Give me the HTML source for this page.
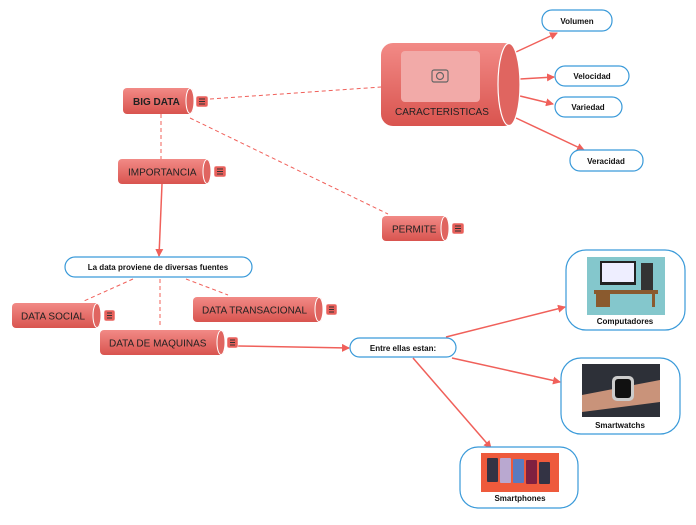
<!DOCTYPE html>
<html><head><meta charset="utf-8"><style>
body{margin:0;background:#fff;width:696px;height:520px;overflow:hidden;font-family:"Liberation Sans",sans-serif}
</style></head><body>
<svg width="696" height="520" viewBox="0 0 696 520" xmlns="http://www.w3.org/2000/svg" font-family="Liberation Sans, sans-serif">
<defs>
<linearGradient id="g" x1="0" y1="0" x2="0" y2="1"><stop offset="0" stop-color="#f28a86"/><stop offset="1" stop-color="#d9544f"/></linearGradient>
<marker id="a" markerWidth="8" markerHeight="8" refX="7" refY="4" orient="auto" markerUnits="userSpaceOnUse"><path d="M0,0 L8,4 L0,8z" fill="#f0605a"/></marker>
</defs>
<g stroke="#f0605a" stroke-width="1.5" fill="none">
<path d="M210,99 L381,87" stroke-dasharray="4,3" stroke-width="1"/>
<path d="M161,114 L161,159" stroke-dasharray="4,3" stroke-width="1"/>
<path d="M190,118 L388,214" stroke-dasharray="4,3" stroke-width="1"/>
<path d="M162,184 L159,256" marker-end="url(#a)"/>
<path d="M133,279 L84,301" stroke-dasharray="4,3" stroke-width="1"/>
<path d="M160,279 L160,328" stroke-dasharray="4,3" stroke-width="1"/>
<path d="M186,279 L228,295" stroke-dasharray="4,3" stroke-width="1"/>
<path d="M238,346 L349,348" marker-end="url(#a)"/>
<path d="M516,52 L557,33" marker-end="url(#a)"/>
<path d="M520,79 L554,77" marker-end="url(#a)"/>
<path d="M520,96 L553,104" marker-end="url(#a)"/>
<path d="M516,118 L584,150" marker-end="url(#a)"/>
<path d="M446,337 L565,307" marker-end="url(#a)"/>
<path d="M452,358 L560,382" marker-end="url(#a)"/>
<path d="M413,358 L491,448" marker-end="url(#a)"/>
</g>
<g font-size="10" fill="#222">
<rect x="123" y="88" width="70" height="26" rx="4" fill="url(#g)"/><ellipse cx="190" cy="101" rx="4" ry="12.5" fill="#e06560" stroke="#fff" stroke-width="1"/><text x="133" y="105" font-weight="bold">BIG DATA</text>
<rect x="118" y="159" width="92" height="25" rx="4" fill="url(#g)"/><ellipse cx="207" cy="171.5" rx="4" ry="12" fill="#e06560" stroke="#fff"/><text x="128" y="175.5">IMPORTANCIA</text>
<rect x="382" y="216" width="66" height="25" rx="4" fill="url(#g)"/><ellipse cx="445" cy="228.5" rx="4" ry="12" fill="#e06560" stroke="#fff"/><text x="392" y="232.5">PERMITE</text>
<rect x="12" y="303" width="88" height="25" rx="4" fill="url(#g)"/><ellipse cx="97" cy="315.5" rx="4" ry="12" fill="#e06560" stroke="#fff"/><text x="21" y="319.5">DATA SOCIAL</text>
<rect x="193" y="297" width="129" height="25" rx="4" fill="url(#g)"/><ellipse cx="319" cy="309.5" rx="4" ry="12" fill="#e06560" stroke="#fff"/><text x="202" y="313.5">DATA TRANSACIONAL</text>
<rect x="100" y="330" width="124" height="25" rx="4" fill="url(#g)"/><ellipse cx="221" cy="342.5" rx="4" ry="12" fill="#e06560" stroke="#fff"/><text x="109" y="346.5">DATA DE MAQUINAS</text>
<rect x="381" y="43" width="135" height="83" rx="12" fill="url(#g)"/><ellipse cx="509" cy="84.5" rx="11" ry="41" fill="#e06560" stroke="#fff" stroke-width="1.2"/>
<rect x="401" y="51" width="79" height="51" rx="4" fill="#f2aaa8"/>
<rect x="432" y="70" width="16" height="12" rx="2" fill="none" stroke="#666" stroke-width="1.2"/><circle cx="440" cy="76" r="3.5" fill="none" stroke="#666" stroke-width="1.2"/>
<text x="395" y="115">CARACTERISTICAS</text>
</g>
<g fill="#e8605b" stroke="#fff" stroke-width="0.5">
<rect x="196" y="96" width="12" height="11" rx="2"/><rect x="214" y="166" width="12" height="11" rx="2"/><rect x="452" y="223" width="12" height="11" rx="2"/><rect x="104" y="310" width="11" height="11" rx="2"/><rect x="326" y="304" width="11" height="11" rx="2"/><rect x="227" y="337" width="11" height="11" rx="2"/>
</g>
<g stroke="#333" stroke-width="1">
<path d="M199,99h6M199,101.5h6M199,104h6M217,169h6M217,171.5h6M217,174h6M455,226h6M455,228.5h6M455,231h6M107,313h5M107,315.5h5M107,318h5M329,307h5M329,309.5h5M329,312h5M230,340h5M230,342.5h5M230,345h5"/>
</g>
<g fill="#fff" stroke="#3a9ad9" stroke-width="1.2">
<rect x="65" y="257" width="187" height="20" rx="10"/>
<rect x="350" y="338" width="106" height="19" rx="9.5"/>
<rect x="542" y="10" width="70" height="21" rx="10"/>
<rect x="555" y="66" width="74" height="20" rx="10"/>
<rect x="555" y="97" width="67" height="20" rx="10"/>
<rect x="570" y="150" width="73" height="21" rx="10"/>
<rect x="566" y="250" width="119" height="80" rx="20"/>
<rect x="561" y="358" width="119" height="76" rx="20"/>
<rect x="460" y="447" width="118" height="61" rx="18"/>
</g>
<g font-size="8" font-weight="bold" fill="#111" text-anchor="middle">
<text x="158" y="270">La data proviene de diversas fuentes</text>
<text x="403" y="351">Entre ellas estan:</text>
<text x="577" y="24">Volumen</text>
<text x="592" y="79">Velocidad</text>
<text x="588" y="110">Variedad</text>
<text x="606" y="164">Veracidad</text>
<text x="625" y="324">Computadores</text>
<text x="620" y="428">Smartwatchs</text>
<text x="520" y="501">Smartphones</text>
</g>
<rect x="587" y="257" width="78" height="58" fill="#84c7cc"/>
<rect x="600" y="261" width="36" height="24" fill="#222"/><rect x="602" y="263" width="32" height="19" fill="#eef"/>
<rect x="641" y="263" width="12" height="27" fill="#333"/>
<rect x="594" y="290" width="64" height="4" fill="#8a5a2e"/><rect x="596" y="294" width="14" height="13" fill="#8a5a2e"/><rect x="652" y="294" width="3" height="13" fill="#8a5a2e"/>
<rect x="582" y="364" width="78" height="53" fill="#2d3038"/>
<path d="M582,395 L660,380 L660,402 L582,412z" fill="#c9937a"/>
<rect x="612" y="376" width="22" height="25" rx="5" fill="#ccc"/><rect x="615" y="379" width="16" height="19" rx="3" fill="#111"/>
<rect x="481" y="453" width="78" height="39" fill="#ee5a3c"/>
<g fill="#334"><rect x="487" y="458" width="11" height="24" rx="1"/><rect x="500" y="458" width="11" height="25" rx="1" fill="#b9a8d0"/><rect x="513" y="459" width="11" height="24" rx="1" fill="#5a7bc0"/><rect x="526" y="460" width="11" height="24" rx="1" fill="#802040"/><rect x="539" y="462" width="11" height="22" rx="1"/></g>
</svg>
</body></html>
